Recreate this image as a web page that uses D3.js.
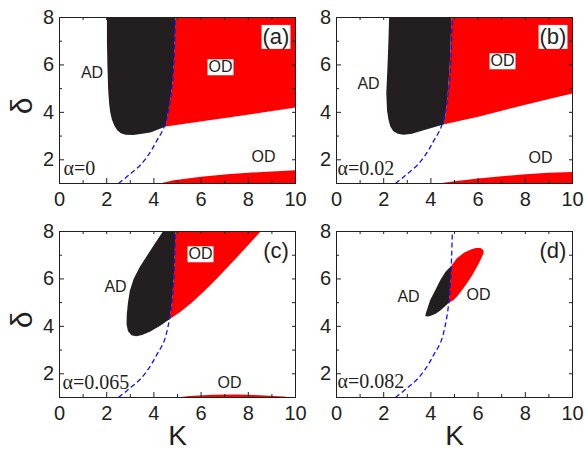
<!DOCTYPE html>
<html lang="en">
<head>
<meta charset="UTF-8">
<title>AD / OD regions in the K - delta plane</title>
<style>
  body { margin: 0; background: #fff; }
  text { font-family: "Liberation Sans", Arial, sans-serif; fill: #231f20; }
  .tick text { font-size: 20px; fill: #231f20; }
  .tick line { stroke: #231f20; }
  .serif { font-family: "Liberation Serif", "Times New Roman", serif; }
</style>
</head>
<body>
<div id="chart"></div>
<script src="https://d3js.org/d3.v7.min.js"></script>
<script>
  // tick values
  const kMajor = [0, 2, 4, 6, 8, 10];
  const kMinor = [1, 3, 5, 7, 9];
  const kAll = [0, 1, 2, 3, 4, 5, 6, 7, 8, 9, 10];
  const dMajor = [2, 4, 6, 8];
  const dMinor = [1, 3, 5, 7];
  const dAll = [1, 2, 3, 4, 5, 6, 7, 8];
  const panelTags = ["(a)", "(b)", "(c)", "(d)"];
  const alphaLabels = ["\u03b1=0", "\u03b1=0.02", "\u03b1=0.065", "\u03b1=0.082"];

  // blue dashed boundary (same in every panel)
  const hopfK = [2.5, 2.93, 3.42, 3.85, 4.13, 4.41, 4.6, 4.76, 4.84, 4.88, 4.91];
  const hopfD = [1, 1.35, 1.77, 2.33, 2.82, 3.32, 4.0, 5, 6, 7, 8];

  // region outlines as [K, delta]
  const adA = [[2.01, 8], [4.91, 8], [4.88, 7], [4.84, 6], [4.76, 5], [4.6, 4], [4.5, 3.4],
    [3.85, 3.15], [3.14, 3.04], [2.8, 3.06], [2.6, 3.12], [2.45, 3.25], [2.32, 3.45],
    [2.22, 3.7], [2.15, 4.0], [2.1, 4.4], [2.06, 5], [2.03, 6], [2.01, 7]];
  const odA = [[4.91, 8], [10, 8], [10, 4.2], [4.5, 3.4], [4.6, 4], [4.76, 5], [4.84, 6], [4.88, 7]];
  const odLowA = [[4.24, 1], [4.84, 1.14], [6, 1.28], [7.1, 1.39], [8, 1.45], [9, 1.51], [10, 1.56], [10, 1]];

  const adB = [[2.23, 8], [4.87, 8], [4.84, 7], [4.8, 6], [4.73, 5], [4.65, 4.2], [4.57, 3.5],
    [3.69, 3.25], [3.2, 3.1], [2.84, 3.06], [2.6, 3.1], [2.41, 3.2], [2.28, 3.4], [2.2, 3.7],
    [2.14, 4.09], [2.11, 4.79], [2.14, 5.5], [2.16, 5.92], [2.2, 7]];
  const odB = [[4.87, 8], [10, 8], [10, 4.8], [9, 4.56], [8, 4.32], [7, 4.07], [6, 3.82], [4.57, 3.5],
    [4.65, 4.2], [4.73, 5], [4.8, 6], [4.84, 7]];
  const odLowB = [[4.3, 1], [5, 1.1], [6, 1.21], [7, 1.31], [8, 1.39], [9, 1.45], [10, 1.49], [10, 1]];

  const adC = [[4.38, 8], [4.91, 8], [4.88, 7], [4.84, 6], [4.76, 5], [4.66, 4.3], [4.3, 4.05],
    [3.85, 3.78], [3.5, 3.64], [3.25, 3.58], [3.05, 3.62], [2.9, 3.8], [2.84, 4.1], [2.85, 4.5],
    [2.9, 5], [2.98, 5.5], [3.14, 6], [3.4, 6.5], [3.72, 7], [4.05, 7.5]];
  const odC = [[4.91, 8], [8.52, 8], [7.6, 7], [6.65, 6], [6.15, 5.5], [5.6, 5], [5.1, 4.6], [4.66, 4.3],
    [4.76, 5], [4.84, 6], [4.88, 7]];
  const odLowC = [[4.95, 1], [5.5, 1.06], [6.5, 1.12], [7.5, 1.13], [8.5, 1.1], [9.5, 1.04], [9.85, 1]];

  const adD = [[3.76, 4.44], [3.8, 4.6], [3.97, 5.11], [4.2, 5.55], [4.4, 5.96], [4.62, 6.3], [4.86, 6.55],
    [4.84, 6], [4.8, 5.5], [4.76, 5.0], [4.6, 4.85], [4.4, 4.67], [4.2, 4.53], [3.97, 4.44], [3.85, 4.42]];
  const odD = [[4.86, 6.55], [5.1, 6.87], [5.4, 7.1], [5.67, 7.23], [5.9, 7.3], [6.1, 7.3], [6.22, 7.22],
    [6.24, 7.1], [6.1, 6.8], [5.96, 6.52], [5.75, 6.15], [5.53, 5.82], [5.3, 5.5], [5.1, 5.25],
    [4.95, 5.1], [4.76, 5.0], [4.8, 5.5], [4.84, 6]];

  const W = 236, H = 166;
  const panels = [
    {x: 59, y: 17, black: [adA], red: [odA, odLowA],
     ad: [33, 55.5], od: [161.5, 49.5, true], od2: [204.5, 139.5], alpha: [4.5, 157.5], yLabel: true},
    {x: 336, y: 17, black: [adB], red: [odB, odLowB],
     ad: [32.5, 66.5], od: [166.5, 43.5, true], od2: [204.5, 140.5], alpha: [1.5, 157.5]},
    {x: 59, y: 231, black: [adC], red: [odC, odLowC],
     ad: [56.5, 55.5], od: [141.5, 22.5, true], od2: [170.5, 151.5], alpha: [3.5, 157.5], yLabel: true, xLabel: true},
    {x: 336, y: 231, black: [adD], red: [odD],
     ad: [72.5, 65.5], od: [142.5, 63.5, false], alpha: [1.5, 156.5], xLabel: true}
  ];

  const svg = d3.select("#chart").append("svg")
    .attr("width", 585)
    .attr("height", 450);

  const hopf = hopfK.map((k, j) => [k, hopfD[j]]);

  panels.forEach((p, i) => {
    const g = svg.append("g").attr("transform", `translate(${p.x},${p.y})`);
    const x = d3.scaleLinear().domain([0, 10]).range([0, W]);
    const y = d3.scaleLinear().domain([1, 8]).range([H, 0]);

    g.append("clipPath").attr("id", "clip" + i)
      .append("rect").attr("x", 0.5).attr("y", 0.5).attr("width", W).attr("height", H);
    const plot = g.append("g").attr("clip-path", `url(#clip${i})`);

    const region = d3.line().x(d => x(d[0]) + 0.5).y(d => y(d[1]) + 0.5).curve(d3.curveLinearClosed);
    p.red.forEach(r => plot.append("path").attr("d", region(r)).attr("fill", "#ff0000"));
    p.black.forEach(r => plot.append("path").attr("d", region(r)).attr("fill", "#231f20"));

    plot.append("path")
      .attr("d", d3.line().x(d => x(d[0]) + 0.5).y(d => y(d[1]) + 0.5).curve(d3.curveCatmullRom)(hopf))
      .attr("fill", "none")
      .attr("stroke", "#0a14ff")
      .attr("stroke-width", 1.3)
      .attr("stroke-dasharray", "5,3");

    // axes, ticks pointing inward
    const clean = a => a.select(".domain").remove();
    g.append("g").attr("transform", `translate(0,${H})`)
      .call(d3.axisBottom(x).tickValues(kMajor).tickSize(-5).tickPadding(9).tickFormat(d3.format("d"))).call(clean);
    g.append("g").attr("transform", `translate(0,${H})`)
      .call(d3.axisBottom(x).tickValues(kMinor).tickSize(-3).tickFormat("")).call(clean);
    g.append("g")
      .call(d3.axisLeft(y).tickValues(dMajor).tickSize(-5).tickPadding(5).tickFormat(d3.format("d"))).call(clean);
    g.append("g")
      .call(d3.axisLeft(y).tickValues(dMinor).tickSize(-3).tickFormat("")).call(clean);
    g.append("g")
      .call(d3.axisTop(x).tickValues(kAll).tickSize(-3).tickFormat("")).call(clean);
    g.append("g").attr("transform", `translate(${W},0)`)
      .call(d3.axisRight(y).tickValues(dAll).tickSize(-3).tickFormat("")).call(clean);

    g.append("rect")
      .attr("x", 0.5).attr("y", 0.5).attr("width", W).attr("height", H)
      .attr("fill", "none").attr("stroke", "#231f20").attr("stroke-width", 1);

    // labels with optional white box
    function label(txt, pos, size, boxed) {
      const t = g.append("text")
        .attr("x", pos[0]).attr("y", pos[1]).attr("dy", "0.36em")
        .attr("text-anchor", "middle")
        .style("font-size", size + "px")
        .text(txt);
      if (boxed) {
        const b = t.node().getBBox();
        g.insert("rect", () => t.node())
          .attr("x", b.x - 1).attr("y", b.y + 1).attr("width", b.width + 2).attr("height", b.height - 1)
          .attr("fill", "#fff");
      }
    }
    label("AD", p.ad, 16, false);
    label("OD", p.od, 16, p.od[2]);
    if (p.od2) label("OD", p.od2, 16, false);
    label(panelTags[i], [217, 19], 22, true);

    g.append("text")
      .attr("class", "serif")
      .attr("x", p.alpha[0]).attr("y", p.alpha[1])
      .style("font-size", "20px")
      .text(alphaLabels[i]);

    if (p.yLabel) {
      g.append("text")
        .attr("transform", `translate(${-38},${H / 2 + 6}) rotate(-90)`)
        .attr("text-anchor", "middle")
        .attr("dy", "0.35em")
        .style("font-size", "30px")
        .text("\u03b4");
    }
    if (p.xLabel) {
      g.append("text")
        .attr("x", W / 2 + 0.5).attr("y", 214)
        .attr("text-anchor", "middle")
        .style("font-size", "28px")
        .text("K");
    }
  });
</script>
</body>
</html>
